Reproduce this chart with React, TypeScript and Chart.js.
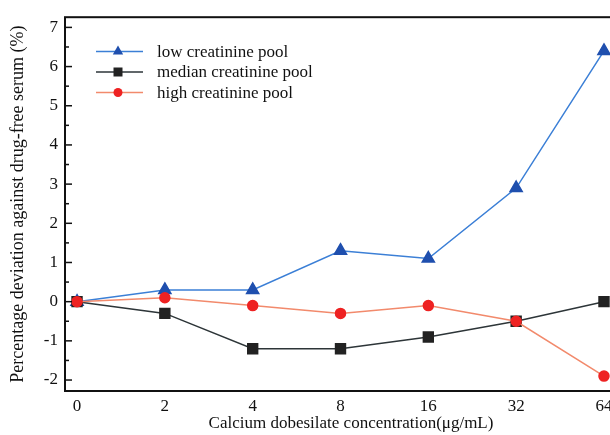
import React, { useEffect, useRef } from "react";
import { Chart, registerables } from "chart.js";

Chart.register(...registerables);

const concentrations = ["0", "2", "4", "8", "16", "32", "64"];
const lowPool = [0, 0.3, 0.3, 1.3, 1.1, 2.9, 6.4];
const medianPool = [0, -0.3, -1.2, -1.2, -0.9, -0.5, 0.0];
const highPool = [0, 0.1, -0.1, -0.3, -0.1, -0.5, -1.9];
const yTickValues = [-2, -1, 0, 1, 2, 3, 4, 5, 6, 7];
const seriesNames = ["low creatinine pool", "median creatinine pool", "high creatinine pool"];

const FONT = "'Liberation Serif', 'DejaVu Serif', serif";
const lineColors = ["#3b7fd6", "#2d3538", "#f28a6c"];
const markerColors = ["#1f4fae", "#222222", "#ee2222"];
const markerStyles = ["triangle", "rect", "circle"];

function drawMarker(ctx: CanvasRenderingContext2D, style: string, x: number, y: number, color: string) {
  ctx.save();
  ctx.fillStyle = color;
  ctx.beginPath();
  if (style === "triangle") {
    const r = 6;
    ctx.moveTo(x, y - r);
    ctx.lineTo(x + r * 0.866, y + r * 0.5);
    ctx.lineTo(x - r * 0.866, y + r * 0.5);
    ctx.closePath();
  } else if (style === "rect") {
    ctx.rect(x - 4.5, y - 4.5, 9, 9);
  } else {
    ctx.arc(x, y, 4.5, 0, Math.PI * 2);
  }
  ctx.fill();
  ctx.restore();
}

const framePlugin = {
  id: "framePlugin",
  afterDraw(chart: any) {
    const { ctx, chartArea, scales } = chart;
    const ys = scales.y;
    ctx.save();
    ctx.strokeStyle = "#111";
    ctx.lineWidth = 2;
    ctx.strokeRect(chartArea.left, chartArea.top, chartArea.right - chartArea.left, chartArea.bottom - chartArea.top);
    ctx.lineWidth = 1.5;
    for (let v = -2; v <= 7.001; v += 0.5) {
      const py = ys.getPixelForValue(v);
      const len = Math.abs(v - Math.round(v)) < 0.01 ? 7 : 4;
      ctx.beginPath();
      ctx.moveTo(chartArea.left, py);
      ctx.lineTo(chartArea.left + len, py);
      ctx.stroke();
    }
    const rows = [51.5, 72, 92.5];
    ctx.font = `17px ${FONT}`;
    ctx.textBaseline = "middle";
    ctx.textAlign = "left";
    seriesNames.forEach((name, i) => {
      const y = rows[i];
      ctx.strokeStyle = lineColors[i];
      ctx.lineWidth = 1.5;
      ctx.beginPath();
      ctx.moveTo(96, y);
      ctx.lineTo(143, y);
      ctx.stroke();
      drawMarker(ctx, markerStyles[i], 118, y, markerColors[i]);
      ctx.fillStyle = "#111";
      ctx.fillText(name, 157, y + 1);
    });
    ctx.restore();
  },
};

export default function App() {
  const canvasRef = useRef<HTMLCanvasElement | null>(null);

  useEffect(() => {
    const canvas = canvasRef.current;
    if (!canvas) return;
    const toPts = (arr: number[]) => arr.map((v, i) => ({ x: i, y: v }));
    const chart = new Chart(canvas, {
      type: "line",
      data: {
        datasets: [
          {
            label: seriesNames[0],
            data: toPts(lowPool),
            borderColor: lineColors[0],
            backgroundColor: markerColors[0],
            pointBackgroundColor: markerColors[0],
            pointBorderColor: markerColors[0],
            pointStyle: "triangle",
            pointRadius: 7,
            borderWidth: 1.5,
            order: 2,
          },
          {
            label: seriesNames[1],
            data: toPts(medianPool),
            borderColor: lineColors[1],
            backgroundColor: markerColors[1],
            pointBackgroundColor: markerColors[1],
            pointBorderColor: markerColors[1],
            pointStyle: "rect",
            pointRadius: 7,
            borderWidth: 1.5,
            order: 1,
          },
          {
            label: seriesNames[2],
            data: toPts(highPool),
            borderColor: lineColors[2],
            backgroundColor: markerColors[2],
            pointBackgroundColor: markerColors[2],
            pointBorderColor: markerColors[2],
            pointStyle: "circle",
            pointRadius: 5,
            borderWidth: 1.5,
            order: 0,
          },
        ],
      },
      options: {
        responsive: false,
        animation: false,
        layout: { padding: { top: 17, right: 13, left: 0, bottom: 0 } },
        plugins: { legend: { display: false }, tooltip: { enabled: false } },
        scales: {
          x: {
            type: "linear",
            min: -0.137,
            max: 6.376,
            grid: { display: false, drawTicks: false },
            border: { display: false },
            afterFit: (s: any) => {
              s.height = 44;
            },
            afterBuildTicks: (s: any) => {
              s.ticks = concentrations.map((_, i) => ({ value: i }));
            },
            ticks: {
              padding: 5,
              color: "#111",
              font: { family: FONT, size: 17 },
              maxRotation: 0,
              autoSkip: false,
              callback: (v: any) => concentrations[Math.round(Number(v))] ?? "",
            },
            title: {
              display: true,
              text: "Calcium dobesilate concentration(μg/mL)",
              color: "#111",
              font: { family: FONT, size: 17 },
              padding: { top: 0, bottom: 1 },
            },
          },
          y: {
            min: -2.28,
            max: 7.26,
            grid: { display: false, drawTicks: false },
            border: { display: false },
            afterFit: (s: any) => {
              s.width = 65;
            },
            afterBuildTicks: (s: any) => {
              s.ticks = yTickValues.map((v) => ({ value: v }));
            },
            ticks: {
              padding: 7,
              color: "#111",
              font: { family: FONT, size: 17 },
              callback: (v: any) => String(v),
            },
            title: {
              display: true,
              text: "Percentage deviation against drug-free serum (%)",
              color: "#111",
              font: { family: FONT, size: 18 },
              padding: { top: 7, bottom: 0 },
            },
          },
        },
      },
      plugins: [framePlugin],
    });
    return () => chart.destroy();
  }, []);

  return (
    <div style={{ position: "absolute", left: 0, top: 0, width: 610, height: 435, overflow: "hidden", background: "#fff" }}>
      <canvas ref={canvasRef} width={650} height={435} style={{ display: "block" }} />
    </div>
  );
}
